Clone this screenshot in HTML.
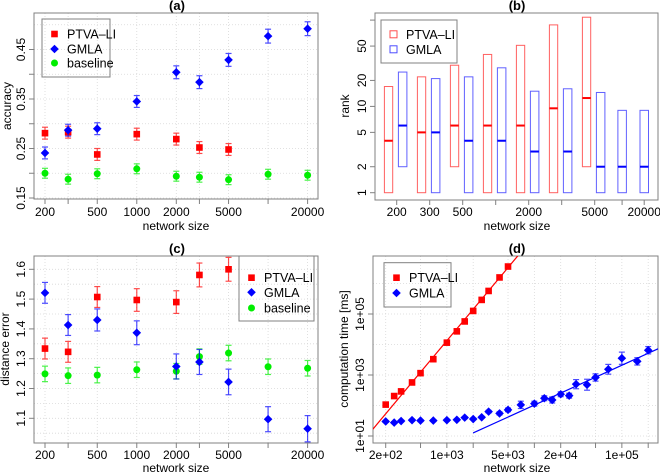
<!DOCTYPE html>
<html><head><meta charset="utf-8">
<style>
html,body{margin:0;padding:0;background:#fff;}
svg{display:block;font-family:"Liberation Sans",Arial,sans-serif;}
</style></head>
<body>
<svg id="chart" width="660" height="474" viewBox="0 0 660 474" xmlns="http://www.w3.org/2000/svg">
<defs>
<clipPath id="clipD"><rect x="373" y="256" width="285" height="187"/></clipPath>
</defs>
</svg>
<script>
// ---- Panel (a) accuracy ----
const sizesAC = [200,300,500,1000,2000,3000,5000,10000,20000];
const accPTVA = [0.281,0.283,0.238,0.279,0.269,0.252,0.248];
const accPTVAerr = [0.012,0.012,0.012,0.012,0.012,0.012,0.012];
const accGMLA = [0.241,0.287,0.290,0.345,0.404,0.384,0.429,0.477,0.492];
const accGMLAerr = [0.012,0.012,0.012,0.012,0.013,0.013,0.013,0.014,0.014];
const accBase = [0.200,0.188,0.199,0.209,0.194,0.192,0.187,0.198,0.196];
const accBaseErr = [0.010,0.010,0.010,0.010,0.010,0.010,0.010,0.010,0.010];
const accTicks = [0.15,0.25,0.35,0.45];
const acXLabels = [200,500,1000,2000,5000,20000];
// ---- Panel (b) rank ----
const rankCats = ['200','300','500','1000','2000','3000','5000','10000','20000'];
const rankSlot = [0,1,2,3,4,5,6,6.83,7.5];
const rankPTVAlo = [1,1,2,1,1,1,2];
const rankPTVAmed = [4,5,6,6,6,9.5,12.5];
const rankPTVAhi = [17,22,30,40,51,88,108];
const rankGMLAlo = [2,1,1,1,1,1,1,1,1];
const rankGMLAmed = [6,5,4,4,3,3,2,2,2];
const rankGMLAhi = [25,21,22,28,15,16,14.5,9,9];
const rankTicks = [1,2,5,10,20,50];
const rankLabels = ['200','300','500','','2000','','5000','','20000'];
// ---- Panel (c) distance error ----
const dePTVA = [1.334,1.323,1.507,1.497,1.490,1.581,1.600];
const dePTVAerr = [0.035,0.035,0.035,0.038,0.038,0.04,0.04];
const deGMLA = [1.521,1.413,1.430,1.387,1.274,1.289,1.222,1.097,1.065];
const deGMLAerr = [0.035,0.035,0.037,0.04,0.042,0.042,0.043,0.042,0.044];
const deBase = [1.249,1.243,1.245,1.263,1.258,1.307,1.319,1.273,1.268];
const deBaseErr = [0.026,0.026,0.026,0.026,0.026,0.026,0.026,0.026,0.026];
const deTicks = [1.1,1.2,1.3,1.4,1.5,1.6];
// ---- Panel (d) computation time ----
const ctPTVAx = [200,250,300,400,500,700,1000,1300,1600,2000,2500,3000,4000,5000];
const ctPTVAy = [107,204,290,570,1150,3300,11500,27000,57000,126000,290000,570000,1580000,3600000];
const ctGMLAx = [200,250,300,400,500,700,1000,1300,1600,2000,2500,3000,4000,5000,7000,10000,13000,16000,20000,25000,30000,40000,50000,70000,100000,150000,200000];
const ctGMLAy = [30,27.5,31,33,32,32,33,34,40,36,41,63,55,72,105,115,173,152,234,210,500,480,830,1540,3550,2800,6500];
const ctGMLAerrLog = [0.03,0.03,0.03,0.03,0.03,0.03,0.03,0.03,0.03,0.03,0.03,0.04,0.05,0.06,0.12,0.08,0.08,0.1,0.08,0.08,0.15,0.18,0.12,0.16,0.2,0.12,0.12];
const fitPTVA = [2.159,1.24,3.43];   // [x0 log, y0 log, slope]
const fitGMLA = [3.30,1.10,1.306];
const ctXTicks = [200,500,1000,2000,5000,10000,20000,50000,100000,200000];
const ctXLabels = ['2e+02','','1e+03','','5e+03','','2e+04','','1e+05',''];
const ctYTicks = [10,1000,100000];
const ctYLabels = ['1e+01','1e+03','1e+05'];

const svg = document.getElementById('chart');
const NS = 'http://www.w3.org/2000/svg';
const RED='#ff0000', BLUE='#0000ff', GREEN='#00ee00';
function mk(tag, attrs, name, parent){
  const el = document.createElementNS(NS, tag);
  for (const k in attrs) el.setAttribute(k, attrs[k]);
  
  
  (parent||svg).appendChild(el);
  return el;
}
function txt(x,y,s,name,opts){
  opts=opts||{};
  const a={x:x,y:y,'font-size':opts.size||12,'text-anchor':opts.anchor||'middle',fill:'#000'};
  if(opts.bold) a['font-weight']='bold';
  if(opts.rot) a.transform='rotate(-90 '+x+' '+y+')';
  const t=mk('text',a,name,opts.parent);
  t.textContent=s;
  return t;
}
function ln(x1,y1,x2,y2,stroke,w,name,extra,parent){
  const a={x1:x1,y1:y1,x2:x2,y2:y2,stroke:stroke,'stroke-width':w||1};
  if(extra) for(const k in extra) a[k]=extra[k];
  return mk('line',a,name,parent);
}
function grid(x1,y1,x2,y2,name){ return ln(x1,y1,x2,y2,'#d8d8d8',0.8,name,{'stroke-dasharray':'1,2'}); }
function marker(kind,x,y,color,name){
  if(kind==='sq') return mk('rect',{x:x-3.3,y:y-3.3,width:6.6,height:6.6,fill:color},name);
  if(kind==='di') return mk('polygon',{points:(x)+','+(y-4.3)+' '+(x+4.3)+','+y+' '+x+','+(y+4.3)+' '+(x-4.3)+','+y,fill:color},name);
  return mk('circle',{cx:x,cy:y,r:3.5,fill:color},name);
}
function errbar(x,y1,y2,color,name){
  const g=mk('g',{stroke:color,'stroke-width':1.2,opacity:0.7},name);
  ln(x,y1,x,y2,color,1.2,name+'-stem',null,g);
  ln(x-3,y1,x+3,y1,color,1.2,name+'-cap-top',null,g);
  ln(x-3,y2,x+3,y2,color,1.2,name+'-cap-bottom',null,g);
  return g;
}
function box(x,y,w,h,name){ return mk('rect',{x:x,y:y,width:w,height:h,fill:'none',stroke:'#808080','stroke-width':1},name); }
function legend(x,y,w,h,entries,name){
  box(x,y,w,h,name);
  entries.forEach(function(e,i){
    const ey=e.y;
    if(e.kind==='open') mk('rect',{x:x+9,y:ey-3.5,width:7,height:7,fill:'none',stroke:e.color,'stroke-width':1,opacity:0.7},'legend-marker-'+e.id);
    else marker(e.kind,x+12.5,ey,e.color,'legend-marker-'+e.id);
    txt(x+25,ey+4.5,e.label,'legend-label-'+e.id,{anchor:'start',size:12.5});
  });
}

// ===== Panel A =====
const xa = v => 45 + Math.log10(v/200)*131.3;
const ya = v => 198 - (v-0.15)*495;
for(let v=0.15; v<=0.501; v+=0.05) grid(34,ya(v),318,ya(v),'grid-a-h');
sizesAC.forEach(s=>grid(xa(s),13,xa(s),199,'grid-a-v'));
box(34,13,284,186,'plot-area-a');
txt(177,10,'(a)','title-a',{bold:true,size:13});
sizesAC.forEach(s=>ln(xa(s),199,xa(s),204,'#808080',1,'x-tick-a'));
acXLabels.forEach(s=>txt(xa(s),216,String(s),'x-tick-label-a',{size:12}));
txt(176,230,'network size','x-axis-title-a',{size:12});
accTicks.forEach(v=>{ln(29,ya(v),34,ya(v),'#808080',1,'y-tick-a'); txt(25,ya(v),v.toFixed(2),'y-tick-label-a',{rot:true,size:12});});
for(let v=0.2; v<0.5; v+=0.1) ln(29,ya(v),34,ya(v),'#808080',1,'y-minor-tick-a');
txt(11,106,'accuracy','y-axis-title-a',{rot:true,size:12});
accBase.forEach((v,i)=>{errbar(xa(sizesAC[i]),ya(v+accBaseErr[i]),ya(v-accBaseErr[i]),GREEN,'errbar-a-baseline'); marker('ci',xa(sizesAC[i]),ya(v),GREEN,'point-a-baseline');});
accPTVA.forEach((v,i)=>{errbar(xa(sizesAC[i]),ya(v+accPTVAerr[i]),ya(v-accPTVAerr[i]),RED,'errbar-a-ptva'); marker('sq',xa(sizesAC[i]),ya(v),RED,'point-a-ptva');});
accGMLA.forEach((v,i)=>{errbar(xa(sizesAC[i]),ya(v+accGMLAerr[i]),ya(v-accGMLAerr[i]),BLUE,'errbar-a-gmla'); marker('di',xa(sizesAC[i]),ya(v),BLUE,'point-a-gmla');});
legend(42,19,68,58,[{id:'ptva',kind:'sq',color:RED,label:'PTVA\u2013LI',y:34},{id:'gmla',kind:'di',color:BLUE,label:'GMLA',y:49},{id:'baseline',kind:'ci',color:GREEN,label:'baseline',y:63}],'legend-a');

// ===== Panel B =====
const xb = slot => 396.7 + 33*slot;
const yb = v => 192.7 - Math.log10(v)*86.3;
box(375,13,283,187,'plot-area-b');
txt(517,10,'(b)','title-b',{bold:true,size:13});
rankSlot.forEach((s,i)=>{ln(xb(s),200,xb(s),205,'#808080',1,'x-tick-b'); if(rankLabels[i]) txt(xb(s),216,rankLabels[i],'x-tick-label-b',{size:12});});
txt(517,230,'network size','x-axis-title-b',{size:12});
rankTicks.concat([100]).forEach(v=>ln(370,yb(v),375,yb(v),'#808080',1,'y-tick-b'));
rankTicks.forEach(v=>txt(366,yb(v),String(v),'y-tick-label-b',{rot:true,size:12}));
txt(349,106,'rank','y-axis-title-b',{rot:true,size:12});
rankPTVAmed.forEach((m,i)=>{
  const x=xb(rankSlot[i])-12.3;
  mk('rect',{x:x,y:yb(rankPTVAhi[i]),width:8.3,height:yb(rankPTVAlo[i])-yb(rankPTVAhi[i]),fill:'none',stroke:'#ff6060','stroke-width':1},'box-b-ptva');
  ln(x,yb(m),x+8.3,yb(m),RED,2,'median-b-ptva');
});
rankGMLAmed.forEach((m,i)=>{
  const off = i<7 ? 1.7 : -4.2;
  const x=xb(rankSlot[i])+off;
  mk('rect',{x:x,y:yb(rankGMLAhi[i]),width:8.5,height:yb(rankGMLAlo[i])-yb(rankGMLAhi[i]),fill:'none',stroke:'#6060ff','stroke-width':1},'box-b-gmla');
  ln(x,yb(m),x+8.5,yb(m),BLUE,2,'median-b-gmla');
});
legend(381,20,76,43,[{id:'b-ptva',kind:'open',color:RED,label:'PTVA\u2013LI',y:34.3},{id:'b-gmla',kind:'open',color:BLUE,label:'GMLA',y:49.3}],'legend-b');

// ===== Panel C =====
const yc = v => 269.3 - (v-1.6)*298;
for(let v=1.05; v<=1.601; v+=0.05) grid(34,yc(v),318,yc(v),'grid-c-h');
sizesAC.forEach(s=>grid(xa(s),256,xa(s),443,'grid-c-v'));
box(34,256,284,187,'plot-area-c');
txt(177,253,'(c)','title-c',{bold:true,size:13});
sizesAC.forEach(s=>ln(xa(s),443,xa(s),448,'#808080',1,'x-tick-c'));
acXLabels.forEach(s=>txt(xa(s),459,String(s),'x-tick-label-c',{size:12}));
txt(176,472,'network size','x-axis-title-c',{size:12});
deTicks.forEach(v=>{ln(29,yc(v),34,yc(v),'#808080',1,'y-tick-c'); txt(25,yc(v),v.toFixed(1),'y-tick-label-c',{rot:true,size:12});});
txt(9,349,'distance error','y-axis-title-c',{rot:true,size:12});
deBase.forEach((v,i)=>{errbar(xa(sizesAC[i]),yc(v+deBaseErr[i]),yc(v-deBaseErr[i]),GREEN,'errbar-c-baseline'); marker('ci',xa(sizesAC[i]),yc(v),GREEN,'point-c-baseline');});
dePTVA.forEach((v,i)=>{errbar(xa(sizesAC[i]),yc(v+dePTVAerr[i]),yc(v-dePTVAerr[i]),RED,'errbar-c-ptva'); marker('sq',xa(sizesAC[i]),yc(v),RED,'point-c-ptva');});
deGMLA.forEach((v,i)=>{errbar(xa(sizesAC[i]),yc(v+deGMLAerr[i]),yc(v-deGMLAerr[i]),BLUE,'errbar-c-gmla'); marker('di',xa(sizesAC[i]),yc(v),BLUE,'point-c-gmla');});
legend(239,256,75,65,[{id:'c-ptva',kind:'sq',color:RED,label:'PTVA\u2013LI',y:277.7},{id:'c-gmla',kind:'di',color:BLUE,label:'GMLA',y:292.3},{id:'c-baseline',kind:'ci',color:GREEN,label:'baseline',y:308}],'legend-c');

// ===== Panel D =====
const xdl = l => 385.7 + (l - Math.log10(200))*87.5;
const xd = v => xdl(Math.log10(v));
const ydl = l => 436 - (l-1)*30.5;
const yd = v => ydl(Math.log10(v));
for(let l=1; l<=6; l++) grid(373,ydl(l),658,ydl(l),'grid-d-h');
ctXTicks.forEach(v=>grid(xd(v),256,xd(v),443,'grid-d-v'));
box(373,256,285,187,'plot-area-d');
txt(517,253,'(d)','title-d',{bold:true,size:13});
ctXTicks.forEach((v,i)=>{ln(xd(v),443,xd(v),448,'#808080',1,'x-tick-d'); if(ctXLabels[i]) txt(xd(v),459,ctXLabels[i],'x-tick-label-d',{size:12});});
txt(517,472,'network size','x-axis-title-d',{size:12});
ctYTicks.forEach((v,i)=>{ln(368,yd(v),373,yd(v),'#808080',1,'y-tick-d'); txt(364,yd(v),ctYLabels[i],'y-tick-label-d',{rot:true,size:12});});
txt(348,349,'computation time [ms]','y-axis-title-d',{rot:true,size:12});
const clipG = mk('g',{'clip-path':'url(#clipD)'},'fit-lines-d');
function fitLine(f,xStartLog,color,name){
  const xEnd=5.6;
  ln(xdl(xStartLog),ydl(f[1]+f[2]*(xStartLog-f[0])),xdl(xEnd),ydl(f[1]+f[2]*(xEnd-f[0])),color,1.2,name,null,clipG);
}
fitLine(fitPTVA,2.0,RED,'fit-line-ptva');
fitLine(fitGMLA,fitGMLA[0],BLUE,'fit-line-gmla');
ctPTVAx.forEach((x,i)=>marker('sq',xd(x),yd(ctPTVAy[i]),RED,'point-d-ptva'));
ctGMLAx.forEach((x,i)=>{
  const l=Math.log10(ctGMLAy[i]);
  errbar(xd(x),ydl(l+ctGMLAerrLog[i]),ydl(l-ctGMLAerrLog[i]),BLUE,'errbar-d-gmla');
  marker('di',xd(x),yd(ctGMLAy[i]),BLUE,'point-d-gmla');
});
legend(384,262.7,67,44.3,[{id:'d-ptva',kind:'sq',color:RED,label:'PTVA\u2013LI',y:277.7},{id:'d-gmla',kind:'di',color:BLUE,label:'GMLA',y:293}],'legend-d');
</script>
</body></html>
